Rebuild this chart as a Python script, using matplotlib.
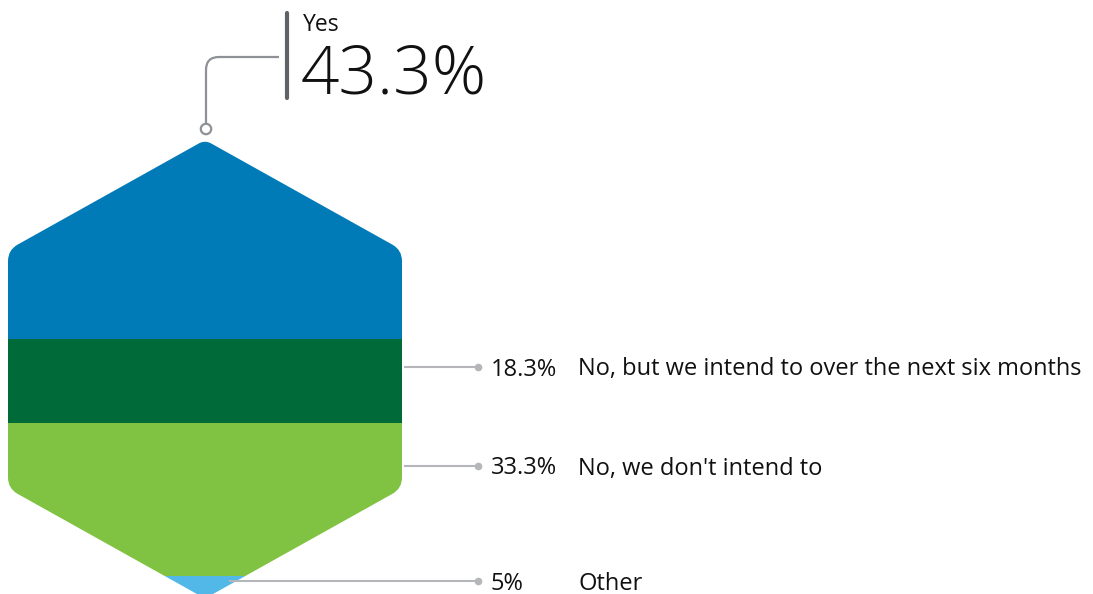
import numpy as np
import matplotlib

matplotlib.use("Agg")
import matplotlib.pyplot as plt
from matplotlib.path import Path
from matplotlib.patches import PathPatch, Rectangle, Circle

plt.rcParams["font.family"] = ["Open Sans", "DejaVu Sans"]

# survey answers, top band first
answers = [
    "Yes",
    "No, but we intend to over the next six months",
    "No, we don't intend to",
    "Other",
]
shares = [43.3, 18.3, 33.3, 5]
share_labels = ["43.3%", "18.3%", "33.3%", "5%"]
band_colors = ["#007bb8", "#006a38", "#80c342", "#52b8e8"]

W, H = 1093, 594
fig = plt.figure(figsize=(W / 100, H / 100), dpi=100)
ax = fig.add_axes([0, 0, 1, 1])
ax.set_xlim(0, W)
ax.set_ylim(H, 0)
ax.axis("off")

# hexagon frame (pixel units)
CX = 205
HALF_W = 197
HEX_TOP = 140
HEX_BOTTOM = 598.5
TIP_H = 110
hex_pts = np.array([
    [CX, HEX_TOP],
    [CX + HALF_W, HEX_TOP + TIP_H],
    [CX + HALF_W, HEX_BOTTOM - TIP_H],
    [CX, HEX_BOTTOM],
    [CX - HALF_W, HEX_BOTTOM - TIP_H],
    [CX - HALF_W, HEX_TOP + TIP_H],
])
corner_r = [7, 11, 11, 6, 11, 11]


def rounded_polygon(pts, radii):
    verts, codes = [], []
    n = len(pts)
    for i in range(n):
        p0, p1, p2 = pts[i - 1], pts[i], pts[(i + 1) % n]
        d0 = (p0 - p1) / np.linalg.norm(p0 - p1)
        d2 = (p2 - p1) / np.linalg.norm(p2 - p1)
        a = p1 + d0 * radii[i]
        b = p1 + d2 * radii[i]
        verts += [a, p1, b]
        codes += [Path.MOVETO if i == 0 else Path.LINETO, Path.CURVE3, Path.CURVE3]
    verts.append(verts[0])
    codes.append(Path.CLOSEPOLY)
    return Path(verts, codes)


hex_patch = PathPatch(rounded_polygon(hex_pts, corner_r), facecolor="none", edgecolor="none")
ax.add_patch(hex_patch)


def share_to_y(cum):
    return HEX_TOP + cum / sum(shares) * (HEX_BOTTOM - HEX_TOP)


cum = np.concatenate([[0], np.cumsum(shares)])
for i, color in enumerate(band_colors):
    y0, y1 = share_to_y(cum[i]), share_to_y(cum[i + 1])
    band = Rectangle((CX - HALF_W - 5, y0), 2 * HALF_W + 10, y1 - y0,
                     facecolor=color, edgecolor="none")
    ax.add_patch(band)
    band.set_clip_path(hex_patch)


def right_edge(y):
    # x of the hexagon's right outline at height y
    if y < HEX_TOP + TIP_H:
        return CX + HALF_W * (y - HEX_TOP) / TIP_H
    if y > HEX_BOTTOM - TIP_H:
        return CX + HALF_W * (HEX_BOTTOM - y) / TIP_H
    return CX + HALF_W


text_color = "#111111"

# callout for the top band
line_gray = "#8e9196"
ax.add_patch(Circle((206, 129), 5.2, facecolor="white", edgecolor=line_gray, linewidth=1.6, zorder=3))
callout = Path(
    [(206, 123.5), (206, 70), (206, 57), (219, 57), (279, 57)],
    [Path.MOVETO, Path.LINETO, Path.CURVE3, Path.CURVE3, Path.LINETO],
)
ax.add_patch(PathPatch(callout, facecolor="none", edgecolor=line_gray, linewidth=1.6))
ax.plot([287, 287], [13, 98], color="#5f6267", linewidth=3, solid_capstyle="round")
ax.text(303, 31, answers[0], fontsize=16.5, color=text_color, va="baseline", ha="left")
ax.text(301, 94, share_labels[0], fontsize=48.5, color=text_color, va="baseline", ha="left",
        fontweight="light")

# leader lines for the remaining bands
label_rows = [367, 466, 581]
for row_y, answer, pct in zip(label_rows, answers[1:], share_labels[1:]):
    x_start = right_edge(row_y) + (3 if row_y <= HEX_BOTTOM - TIP_H else -6)
    ax.plot([x_start, 478], [row_y, row_y], color="#b4b6b9", linewidth=1.5)
    ax.plot([478], [row_y], marker="o", markersize=5.5, color="#b4b6b9", markeredgewidth=0)
    ax.text(491, row_y + 8.5, pct, fontsize=17, color=text_color, va="baseline", ha="left")
    ax.text(578, row_y + 8.5, answer, fontsize=17, color=text_color, va="baseline", ha="left")

fig.savefig("out.png", dpi=100, facecolor="white")
